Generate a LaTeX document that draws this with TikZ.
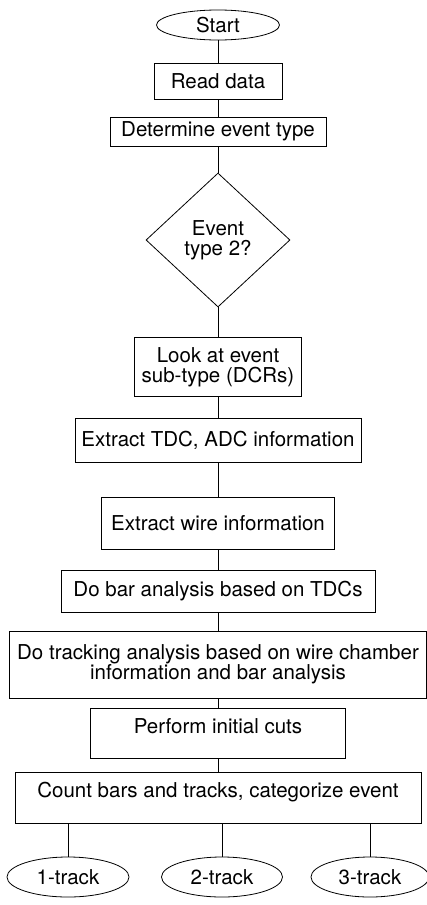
\documentclass[tikz,border=0pt]{standalone}
\usepackage{fontspec}
\setmainfont{TeX Gyre Heros}
\usetikzlibrary{shapes.geometric}
\begin{document}
\begin{tikzpicture}[x=1pt, y=-1pt, line width=0.8pt,
    every node/.style={font=\fontsize{20.5}{20}\selectfont, align=center, inner sep=0pt},
    box/.style={rectangle, draw},
    term/.style={ellipse, draw},
    onerow/.style={text height=13pt, text depth=13pt}]
      \useasboundingbox (0,0) rectangle (427,905);
      \node[term, minimum width=123pt, minimum height=30pt] (start) at (218,25) {Start};
      \node[box, minimum width=128pt, minimum height=36pt] (read) at (218,81) {Read data};
      \node[box, minimum width=216pt, minimum height=29pt] (type) at (218,131.5) {Determine event type};
      \node[diamond, draw, minimum width=144pt, minimum height=134pt] (test) at (218,240) {Event\\type 2?};
      \node[box, minimum width=167pt, minimum height=59pt] (sub) at (218,367) {Look at event\\sub-type (DCRs)};
      \node[box, minimum width=286pt, minimum height=44pt] (tdc) at (218,440) {Extract TDC, ADC information};
      \node[box, minimum width=233pt, minimum height=52pt] (wire) at (218,523) {Extract wire information};
      \node[box, minimum width=314pt, minimum height=42pt] (bar) at (218,591) {Do bar analysis based on TDCs};
      \node[box, minimum width=417pt, minimum height=67pt] (track) at (218,664.5) {Do tracking analysis based on wire chamber\\information and bar analysis};
      \node[box, onerow, minimum width=255pt, minimum height=50pt] (cuts) at (218,733) {Perform initial cuts};
      \node[box, onerow, minimum width=406pt, minimum height=51pt] (count) at (218,797.5) {Count bars and tracks, categorize event};
      \node[term, minimum width=122pt, minimum height=40pt] (one) at (68,877) {1-track};
      \node[term, minimum width=121pt, minimum height=40pt] (two) at (222,877) {2-track};
      \node[term, minimum width=118pt, minimum height=40pt] (three) at (370,877) {3-track};
      \foreach \source/\dest in {start/read, read/type, type/test, test/sub, sub/tdc, tdc/wire, wire/bar, bar/track, track/cuts, cuts/count}
        \path (\source) edge (\dest);
      \foreach \leaf in {one, two, three}
        \path (\leaf |- count.south) edge (\leaf);
\end{tikzpicture}
\end{document}
